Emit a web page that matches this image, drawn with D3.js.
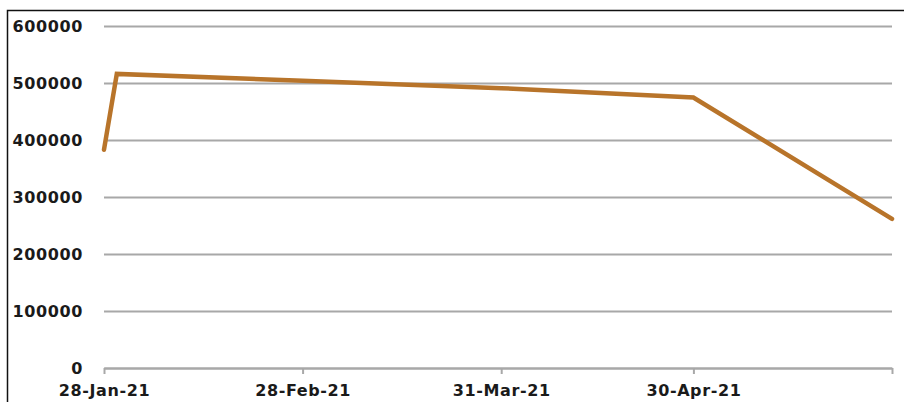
<!DOCTYPE html>
<html>
<head>
<meta charset="utf-8">
<script src="https://cdn.jsdelivr.net/npm/d3@7"></script>
<style>
  body { margin: 0; background: #fff; }
  .tick text { font-family: "DejaVu Sans", Verdana, sans-serif; font-weight: bold; font-size: 16px; letter-spacing: 0.6px; fill: #1a1a1a; }
</style>
</head>
<body>
<div id="chart"></div>
<script>
const FRAME_WIDTH = 904;
const FRAME_HEIGHT = 402;
const MARGINS = {left: 104, right: 12, top: 26, bottom: 34};

// data
const DATES = ["2021-01-28", "2021-01-30", "2021-02-28", "2021-03-31", "2021-04-30", "2021-05-31"];
const VALUES = [383000, 516000, 504000, 491000, 474500, 261500];

// axis ticks
const X_TICKS = ["2021-01-28", "2021-02-28", "2021-03-31", "2021-04-30", "2021-05-31"];
const X_LABELS = ["28-Jan-21", "28-Feb-21", "31-Mar-21", "30-Apr-21", ""];
const Y_TICKS = [0, 100000, 200000, 300000, 400000, 500000, 600000];

const parse = d3.timeParse("%Y-%m-%d");
const data = DATES.map((d, i) => ({date: parse(d), value: VALUES[i]}));

const FRAME = d3.select("#chart")
                .append("svg")
                  .attr("width", FRAME_WIDTH)
                  .attr("height", FRAME_HEIGHT);

const X_SCALE = d3.scaleTime()
                  .domain([parse(X_TICKS[0]), parse(X_TICKS[X_TICKS.length - 1])])
                  .range([MARGINS.left, FRAME_WIDTH - MARGINS.right]);

const Y_SCALE = d3.scaleLinear()
                  .domain([0, 600000])
                  .range([FRAME_HEIGHT - MARGINS.bottom, MARGINS.top]);

// chart border (top and left only visible)
FRAME.append("path")
     .attr("d", "M7.5," + FRAME_HEIGHT + "V10.5H" + FRAME_WIDTH)
     .attr("fill", "none")
     .attr("stroke", "#111")
     .attr("stroke-width", 1.5);

// y axis with gridlines
const yAxis = FRAME.append("g")
     .attr("transform", "translate(" + MARGINS.left + ",0)")
     .call(d3.axisLeft(Y_SCALE)
             .tickValues(Y_TICKS)
             .tickFormat(d3.format("d"))
             .tickSize(-(X_SCALE.range()[1] - MARGINS.left))
             .tickPadding(21));
yAxis.select(".domain").remove();
yAxis.selectAll(".tick line")
     .attr("stroke", "#a8a8a8")
     .attr("stroke-width", 2);
yAxis.selectAll(".tick text").attr("dy", "0.36em");

// x axis
const xAxis = FRAME.append("g")
     .attr("transform", "translate(0," + Y_SCALE(0) + ")")
     .call(d3.axisBottom(X_SCALE)
             .tickValues(X_TICKS.map(parse))
             .tickFormat((d, i) => X_LABELS[i])
             .tickSize(6)
             .tickSizeOuter(0)
             .tickPadding(11));
xAxis.select(".domain")
     .attr("stroke", "#a8a8a8")
     .attr("stroke-width", 2);
xAxis.selectAll(".tick line")
     .attr("stroke", "#a8a8a8")
     .attr("stroke-width", 2);

// the line
const line = d3.line()
               .x((d) => X_SCALE(d.date))
               .y((d) => Y_SCALE(d.value));

FRAME.append("path")
     .datum(data)
     .attr("d", line)
     .attr("fill", "none")
     .attr("stroke", "#b8742a")
     .attr("stroke-width", 4.5)
     .attr("stroke-linejoin", "miter")
     .attr("stroke-linecap", "round");
</script>
</body>
</html>
